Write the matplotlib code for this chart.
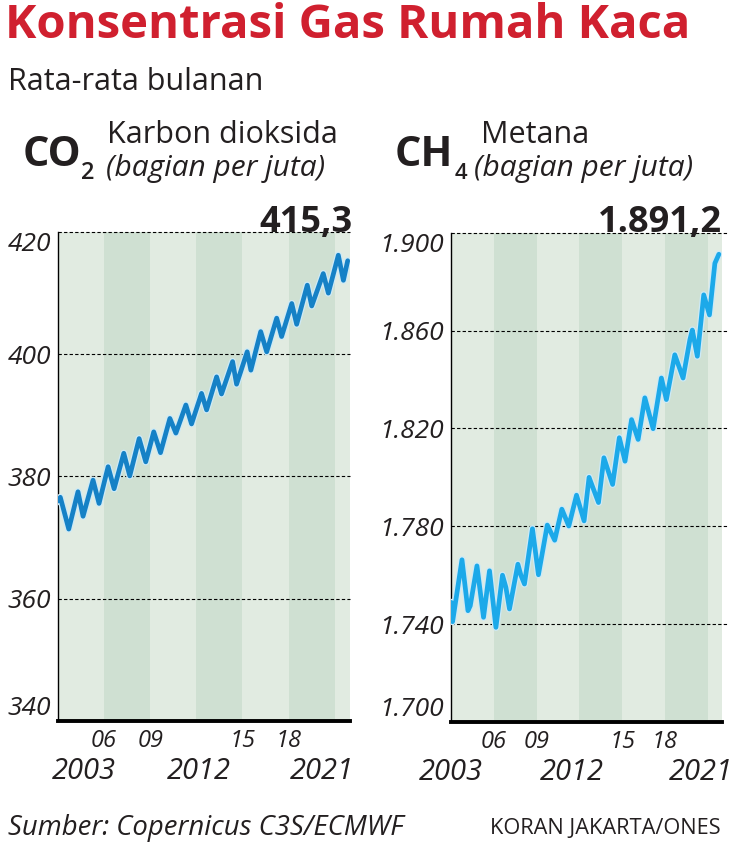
import matplotlib.pyplot as plt
import matplotlib.patheffects as pe

plt.rcParams['font.family'] = ['Open Sans', 'DejaVu Sans']

# CO2 monthly average (ppm) at the seasonal turning points
co2_years = [2003.00, 2003.15, 2003.70,
             2004.30, 2004.63, 2005.28, 2005.67, 2006.26, 2006.65, 2007.28, 2007.67,
             2008.28, 2008.71, 2009.23, 2009.67, 2010.28, 2010.67, 2011.32, 2011.69,
             2012.34, 2012.67, 2013.32, 2013.64, 2014.36, 2014.62, 2015.31, 2015.55,
             2016.19, 2016.58, 2017.23, 2017.55, 2018.21, 2018.53, 2019.22, 2019.51,
             2020.26, 2020.59, 2021.24, 2021.57, 2021.85]
co2_ppm = [376.0, 376.6, 371.4,
           377.5, 373.5, 379.4, 375.6, 381.6, 378.0, 383.8, 380.1,
           386.2, 382.4, 387.3, 383.9, 389.5, 387.1, 391.7, 388.6,
           393.6, 390.9, 396.3, 393.5, 398.8, 395.1, 400.4, 397.4,
           403.7, 400.4, 405.9, 402.9, 408.3, 404.9, 411.3, 407.9,
           413.2, 410.0, 416.2, 412.1, 415.3]

# CH4 monthly average (ppb)
ch4_years = [2003.02, 2003.11, 2003.77, 2004.19, 2004.35, 2004.82, 2005.28, 2005.70,
             2006.15, 2006.61, 2006.85, 2007.10, 2007.69, 2007.90, 2008.15, 2008.71,
             2009.13, 2009.75, 2010.27, 2010.77, 2011.26, 2011.80, 2012.33, 2012.68,
             2013.34, 2013.72, 2014.33, 2014.80, 2015.20, 2015.66, 2016.12, 2016.59,
             2017.17, 2017.75, 2018.10, 2018.69, 2019.27, 2019.75, 2019.92, 2020.27,
             2020.72, 2021.12, 2021.50, 2021.78]
ch4_ppb = [1748.9, 1741.0, 1766.3, 1745.5, 1747.5, 1763.8, 1742.8, 1761.8,
           1738.7, 1760.0, 1755.0, 1746.2, 1764.5, 1760.0, 1756.4, 1779.0,
           1760.2, 1780.5, 1774.3, 1787.0, 1780.1, 1792.7, 1782.2, 1800.0,
           1789.7, 1808.0, 1797.1, 1816.2, 1806.6, 1823.6, 1815.5, 1832.5,
           1819.9, 1840.6, 1831.8, 1850.1, 1840.6, 1856.3, 1860.2, 1849.5,
           1874.6, 1866.4, 1887.5, 1891.2]

co2_ticks = [340, 360, 380, 400, 420]
co2_labels = ['340', '360', '380', '400', '420']
ch4_ticks = [1700, 1740, 1780, 1820, 1860, 1900]
ch4_labels = ['1.700', '1.740', '1.780', '1.820', '1.860', '1.900']
band_edges = [2003, 2006, 2009, 2012, 2015, 2018, 2021, 2022]
short_ticks = [2006, 2009, 2015, 2018]
short_labels = ['06', '09', '15', '18']
long_labels = ['2003', '2012', '2021']

W, H = 743, 847
TXT = '#231f20'
RED = '#d0202f'
LIGHT = '#e1ebe1'
DARK = '#cfe0d2'

fig = plt.figure(figsize=(W / 100, H / 100), dpi=100)


def ftext(x, y, s, **kw):
    # place text with pixel coordinates measured from the top-left corner
    kw.setdefault('color', TXT)
    kw.setdefault('va', 'baseline')
    fig.text(x / W, 1 - y / H, s, **kw)


def panel(rect, years, values, ticks, labels, color, long_pos, grid_ext):
    ax = fig.add_axes([rect[0] / W, 1 - rect[3] / H,
                       (rect[2] - rect[0]) / W, (rect[3] - rect[1]) / H])
    for i in range(len(band_edges) - 1):
        ax.axvspan(band_edges[i], band_edges[i + 1], color=LIGHT if i % 2 == 0 else DARK,
                   lw=0, zorder=0)
    for t in ticks[1:]:
        ax.plot([0, grid_ext], [t, t], transform=ax.get_yaxis_transform(), color='black',
                lw=0.8, ls=(0, (3, 2)), clip_on=False, zorder=1)
    ax.plot(years, values, color=color, lw=3.4, solid_joinstyle='round',
            solid_capstyle='round', zorder=3,
            path_effects=[pe.Stroke(linewidth=5.2, foreground='#cdeaf7'), pe.Normal()])
    ax.set_xlim(2003, 2022)
    ax.set_ylim(ticks[0], ticks[-1])
    for s in ['top', 'right']:
        ax.spines[s].set_visible(False)
    ax.spines['left'].set_linewidth(1.0)
    ax.spines['bottom'].set_linewidth(2.8)
    ax.spines['bottom'].set_zorder(4)
    ax.set_xticks([])
    ax.set_yticks(ticks)
    ax.set_yticklabels(labels, fontsize=19, style='italic', color=TXT)
    ax.tick_params(axis='y', length=0, pad=5)
    tl = ax.get_yticklabels()
    tl[0].set_va('bottom')
    tl[-1].set_va('top')
    tr = ax.get_xaxis_transform()
    for x, s in zip(short_ticks, short_labels):
        ax.text(x, -0.053, s, transform=tr, ha='center', va='baseline', fontsize=17,
                style='italic', color=TXT)
    for x, s in zip(long_pos, long_labels):
        ax.text(x, -0.119, s, transform=tr, ha='center', va='baseline', fontsize=21,
                style='italic', color=TXT)
    return ax


panel((58, 232, 350, 721), co2_years, co2_ppm, co2_ticks, co2_labels, '#1581c6',
      [2004.67, 2012.17, 2020.17], 1.0)
panel((451, 232.7, 722, 722), ch4_years, ch4_ppb, ch4_ticks, ch4_labels, '#1ca9e9',
      [2003.0, 2011.45, 2020.55], 1.02)

# headings
ftext(5, 38, 'Konsentrasi Gas Rumah Kaca', fontsize=34, fontweight='bold', color=RED)
ftext(8, 90, 'Rata-rata bulanan', fontsize=22)

ftext(23, 166, 'CO', fontsize=30, fontweight='bold')
ftext(81, 179, '2', fontsize=17, fontweight='semibold')
ftext(107, 143, 'Karbon dioksida', fontsize=22)
ftext(106, 176, '(bagian per juta)', fontsize=21.5, style='italic')
ftext(352, 232, '415,3', fontsize=26, fontweight='bold', ha='right')

ftext(395, 166, 'CH', fontsize=30, fontweight='bold')
ftext(455, 179, '4', fontsize=16, fontweight='semibold')
ftext(481, 143, 'Metana', fontsize=22)
ftext(474, 176, '(bagian per juta)', fontsize=21.5, style='italic')
ftext(722, 232, '1.891,2', fontsize=26, fontweight='bold', ha='right')

# footer
ftext(8, 835, 'Sumber: Copernicus C3S/ECMWF', fontsize=19.8, style='italic')
ftext(721, 834, 'KORAN JAKARTA/ONES', fontsize=15.7, ha='right')

fig.savefig('out.png', dpi=100)
